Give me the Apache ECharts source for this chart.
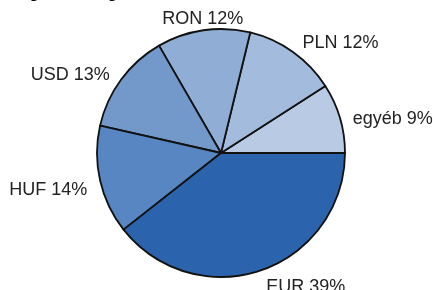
<!DOCTYPE html>
<html>
<head>
<meta charset="utf-8">
<script src="https://cdn.jsdelivr.net/npm/echarts@6/dist/echarts.min.js"></script>
<style>
  html, body { margin: 0; padding: 0; background: #fff; }
  #chart { width: 433px; height: 290px; }
</style>
</head>
<body>
<div id="chart"></div>
<script>
// devizanemek és arányok (%)
const categories = ["egyéb", "PLN", "RON", "USD", "HUF", "EUR"];
const values = [9, 12, 12, 13, 14, 39];
const colors = ["#b9cbe4", "#a3bcdd", "#8fadd5", "#7399cb", "#5886c2", "#2c63ad"];

const chart = echarts.init(document.getElementById("chart"));
const option = {
  animation: false,
  title: {
    text: "Megoszlás régiónál",
    left: 2,
    top: -19,
    textStyle: { fontFamily: "Liberation Sans", fontSize: 16, fontWeight: "bold", color: "#000" }
  },
  series: [
    {
      type: "pie",
      center: [221, 153],
      radius: 124,
      startAngle: 0,
      clockwise: false,
      data: categories.map((name, i) => ({
        name: name,
        value: values[i],
        itemStyle: { color: colors[i] }
      })),
      itemStyle: { borderColor: "#111", borderWidth: 1.8 },
      label: {
        show: true,
        position: "outside",
        formatter: "{b} {c}%",
        fontFamily: "Liberation Sans",
        fontSize: 18,
        color: "#222",
        overflow: "none"
      },
      labelLine: { show: false, length: 8, length2: 0 },
      // kis igazítás a feliratokon
      labelLayout: function (p) {
        const nudge = [[0, 3], [0, -2], [46, -3], [0, 0], [0, 8], [-3, 9]];
        const d = nudge[p.dataIndex];
        return { dx: d[0], dy: d[1] };
      },
      emphasis: { disabled: true }
    }
  ]
};
chart.setOption(option);
</script>
</body>
</html>
